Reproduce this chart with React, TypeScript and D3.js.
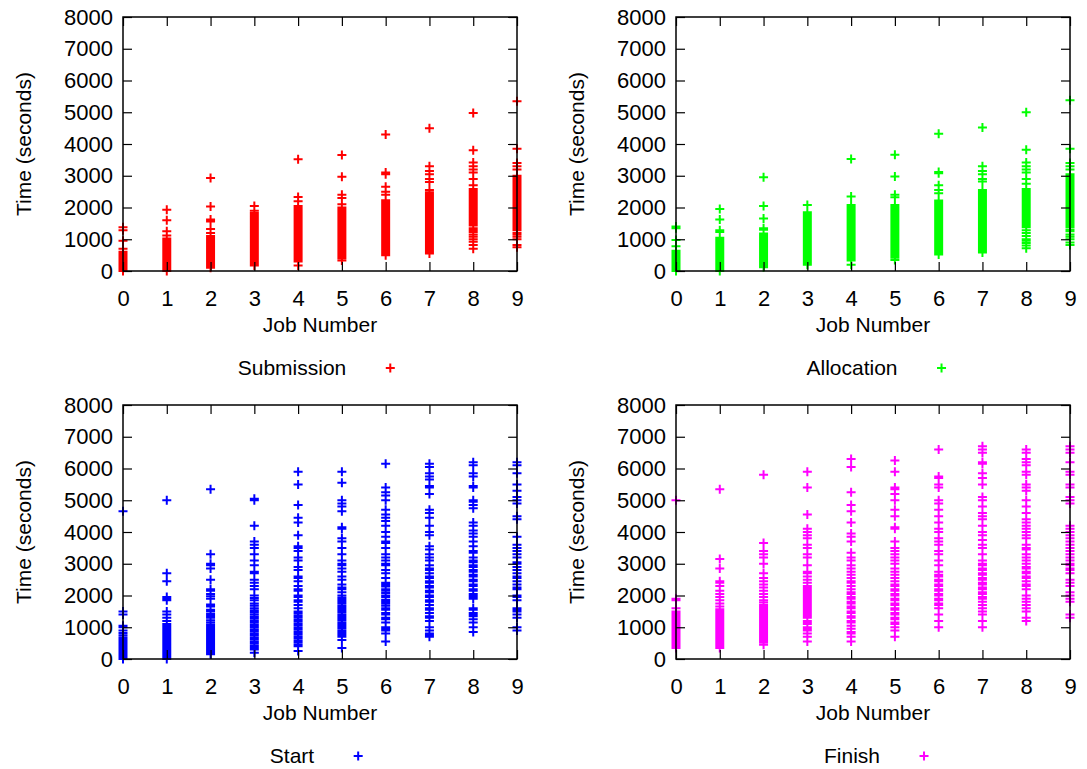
import React, { useEffect, useRef } from "react";
import * as d3 from "d3";

const jobNumbers = [0, 1, 2, 3, 4, 5, 6, 7, 8, 9];
const timeTicks = [0, 1000, 2000, 3000, 4000, 5000, 6000, 7000, 8000];

const submissionTimes: number[][] = [
  [0, 20, 50, 80, 110, 150, 180, 220, 260, 300, 340, 380, 420, 470, 510, 560, 610, 700, 950, 1280, 1380],
  [0, 30, 60, 100, 140, 170, 210, 250, 290, 330, 370, 410, 450, 490, 530, 570, 610, 650, 690, 730, 780, 820, 870, 920, 980, 1020, 1120, 1250, 1600, 1930],
  [100, 140, 190, 230, 280, 320, 360, 410, 450, 490, 540, 580, 620, 660, 700, 750, 790, 830, 880, 920, 970, 1010, 1060, 1100, 1200, 1320, 1560, 1620, 2030, 2930],
  [170, 220, 260, 300, 350, 400, 450, 500, 540, 590, 640, 680, 730, 780, 820, 870, 920, 960, 1010, 1060, 1100, 1150, 1200, 1250, 1300, 1350, 1400, 1450, 1500, 1550, 1600, 1650, 1700, 1760, 1830, 1900, 2050],
  [170, 300, 340, 390, 440, 480, 530, 580, 620, 670, 720, 760, 810, 860, 900, 950, 1000, 1050, 1090, 1140, 1190, 1230, 1280, 1330, 1380, 1420, 1470, 1520, 1560, 1610, 1660, 1700, 1750, 1800, 1850, 1900, 1950, 2000, 2050, 2200, 2330, 3520],
  [330, 400, 440, 490, 540, 590, 630, 680, 730, 780, 820, 870, 920, 960, 1010, 1060, 1110, 1150, 1200, 1250, 1290, 1340, 1390, 1440, 1480, 1530, 1580, 1620, 1670, 1720, 1770, 1810, 1860, 1910, 1960, 2000, 2100, 2300, 2400, 2970, 3650],
  [500, 560, 600, 650, 700, 740, 790, 840, 890, 930, 980, 1030, 1080, 1120, 1170, 1220, 1270, 1310, 1360, 1410, 1460, 1500, 1550, 1600, 1650, 1690, 1740, 1790, 1840, 1880, 1930, 1980, 2030, 2080, 2130, 2180, 2230, 2400, 2500, 2650, 3050, 3100, 4300],
  [550, 600, 650, 690, 740, 790, 840, 880, 930, 980, 1030, 1070, 1120, 1170, 1220, 1260, 1310, 1360, 1410, 1450, 1500, 1550, 1600, 1640, 1690, 1740, 1790, 1830, 1880, 1930, 1980, 2020, 2070, 2120, 2170, 2210, 2260, 2310, 2360, 2420, 2480, 2550, 2800, 2900, 3050, 3150, 3300, 4500],
  [700, 820, 920, 1000, 1080, 1150, 1230, 1290, 1350, 1430, 1480, 1530, 1580, 1620, 1670, 1720, 1770, 1810, 1860, 1910, 1960, 2000, 2050, 2100, 2150, 2190, 2240, 2290, 2340, 2380, 2430, 2480, 2530, 2580, 2700, 2900, 3100, 3200, 3300, 3420, 3800, 4980],
  [750, 820, 1000, 1080, 1150, 1200, 1280, 1330, 1380, 1430, 1480, 1520, 1570, 1620, 1670, 1710, 1760, 1810, 1860, 1900, 1950, 2000, 2050, 2090, 2140, 2190, 2240, 2280, 2330, 2380, 2430, 2470, 2520, 2570, 2620, 2660, 2710, 2760, 2810, 2850, 2900, 2950, 3000, 3200, 3300, 3400, 3850, 5350],
];

const allocationTimes: number[][] = [
  [0, 30, 60, 90, 130, 160, 200, 240, 280, 320, 360, 400, 440, 490, 530, 580, 640, 780, 980, 1350, 1400],
  [0, 40, 70, 110, 150, 190, 230, 270, 310, 350, 390, 430, 470, 510, 550, 590, 630, 670, 710, 760, 800, 850, 900, 950, 1000, 1050, 1230, 1280, 1620, 1950],
  [120, 160, 200, 250, 290, 330, 380, 420, 460, 510, 550, 590, 640, 680, 720, 770, 810, 850, 900, 940, 990, 1030, 1080, 1120, 1180, 1300, 1350, 1650, 2050, 2950],
  [200, 250, 290, 340, 380, 430, 480, 520, 570, 620, 660, 710, 760, 800, 850, 900, 940, 990, 1040, 1080, 1130, 1180, 1220, 1270, 1320, 1360, 1410, 1460, 1500, 1550, 1600, 1650, 1700, 1760, 1800, 1850, 2080],
  [200, 330, 370, 420, 460, 510, 560, 600, 650, 700, 740, 790, 840, 880, 930, 980, 1020, 1070, 1120, 1160, 1210, 1260, 1300, 1350, 1400, 1440, 1490, 1540, 1580, 1630, 1680, 1720, 1770, 1820, 1870, 1920, 1970, 2030, 2080, 2350, 3530],
  [350, 420, 470, 520, 560, 610, 660, 700, 750, 800, 840, 890, 940, 980, 1030, 1080, 1120, 1170, 1220, 1260, 1310, 1360, 1400, 1450, 1500, 1540, 1590, 1640, 1680, 1730, 1780, 1820, 1870, 1920, 1960, 2020, 2080, 2320, 2400, 2980, 3660],
  [520, 580, 620, 670, 720, 760, 810, 860, 900, 950, 1000, 1040, 1090, 1140, 1180, 1230, 1280, 1320, 1370, 1420, 1460, 1510, 1560, 1600, 1650, 1700, 1740, 1790, 1840, 1880, 1930, 1980, 2020, 2070, 2120, 2170, 2220, 2450, 2550, 2700, 3080, 3120, 4320],
  [580, 640, 680, 720, 770, 820, 860, 910, 960, 1000, 1050, 1100, 1140, 1190, 1240, 1280, 1330, 1380, 1420, 1470, 1520, 1560, 1610, 1660, 1700, 1750, 1800, 1840, 1890, 1940, 1980, 2030, 2080, 2120, 2170, 2220, 2260, 2310, 2360, 2400, 2450, 2500, 2550, 2820, 2900, 3050, 3150, 3300, 4520],
  [720, 800, 880, 950, 1000, 1100, 1200, 1280, 1380, 1430, 1480, 1530, 1580, 1620, 1670, 1720, 1770, 1810, 1860, 1910, 1960, 2000, 2050, 2100, 2150, 2190, 2240, 2290, 2340, 2380, 2430, 2480, 2530, 2580, 2750, 2900, 3100, 3200, 3300, 3420, 3820, 5000],
  [820, 900, 1000, 1080, 1150, 1250, 1300, 1380, 1430, 1480, 1520, 1570, 1620, 1670, 1710, 1760, 1810, 1860, 1900, 1950, 2000, 2050, 2090, 2140, 2190, 2240, 2280, 2330, 2380, 2430, 2470, 2520, 2570, 2620, 2660, 2710, 2760, 2810, 2850, 2900, 2950, 3000, 3050, 3200, 3300, 3400, 3850, 5380],
];

const startTimes: number[][] = [
  [0, 30, 70, 110, 150, 200, 240, 290, 330, 380, 420, 470, 520, 560, 620, 680, 750, 820, 900, 1000, 1050, 1400, 1500, 4650],
  [0, 40, 80, 130, 170, 220, 260, 310, 350, 400, 440, 490, 540, 580, 630, 680, 720, 770, 820, 860, 920, 980, 1040, 1100, 1200, 1300, 1400, 1500, 1850, 1900, 1950, 2450, 2700, 5000],
  [150, 200, 250, 300, 360, 410, 460, 510, 570, 620, 680, 730, 790, 840, 900, 960, 1020, 1080, 1150, 1220, 1300, 1360, 1420, 1500, 1550, 1650, 1720, 1900, 1980, 2050, 2150, 2200, 2500, 2850, 2950, 3000, 3300, 5350],
  [200, 300, 360, 420, 490, 550, 620, 680, 750, 810, 880, 940, 1010, 1070, 1140, 1200, 1270, 1330, 1400, 1470, 1530, 1600, 1680, 1750, 1850, 1920, 2000, 2200, 2300, 2400, 2500, 2700, 2750, 2950, 3100, 3300, 3500, 3600, 3700, 4200, 5000, 5050],
  [250, 400, 460, 530, 590, 660, 720, 790, 850, 920, 980, 1050, 1110, 1180, 1240, 1310, 1370, 1440, 1500, 1600, 1700, 1800, 1850, 1950, 2000, 2150, 2200, 2300, 2450, 2550, 2600, 2800, 2900, 3100, 3200, 3400, 3500, 3550, 3900, 4300, 4450, 4850, 5500, 5900],
  [350, 600, 700, 760, 830, 890, 960, 1020, 1090, 1150, 1220, 1280, 1350, 1410, 1480, 1540, 1610, 1670, 1740, 1800, 1870, 1930, 2000, 2100, 2200, 2250, 2350, 2500, 2600, 2750, 2850, 2950, 3000, 3100, 3300, 3500, 3700, 3800, 4100, 4150, 4650, 4800, 4900, 5000, 5550, 5900],
  [550, 800, 900, 950, 1000, 1150, 1250, 1300, 1400, 1450, 1550, 1600, 1680, 1750, 1800, 1870, 1950, 2000, 2080, 2150, 2200, 2280, 2350, 2400, 2550, 2700, 2800, 2950, 3000, 3100, 3200, 3300, 3500, 3650, 3700, 3850, 4000, 4200, 4350, 4450, 4550, 4700, 5000, 5150, 5250, 5400, 6150],
  [700, 750, 800, 900, 1000, 1200, 1300, 1350, 1450, 1550, 1600, 1700, 1800, 1850, 1950, 2000, 2100, 2150, 2250, 2300, 2400, 2450, 2550, 2600, 2700, 2800, 2850, 2950, 3100, 3200, 3300, 3450, 3550, 3900, 4000, 4200, 4450, 4600, 4700, 5200, 5400, 5450, 5650, 5750, 5850, 6050, 6150],
  [850, 1000, 1150, 1250, 1350, 1400, 1450, 1550, 1600, 1900, 1950, 2000, 2050, 2150, 2200, 2300, 2350, 2450, 2500, 2600, 2650, 2750, 2800, 2900, 2950, 3050, 3100, 3200, 3350, 3400, 3550, 3700, 3850, 3950, 4050, 4200, 4300, 4750, 4850, 4950, 5000, 5400, 5450, 5750, 5850, 6100, 6200],
  [900, 1000, 1300, 1400, 1500, 1550, 1600, 1850, 1950, 2000, 2200, 2250, 2350, 2450, 2550, 2600, 2700, 2800, 2900, 3000, 3050, 3200, 3300, 3400, 3500, 3600, 3850, 4400, 4500, 4900, 5000, 5100, 5300, 5500, 5850, 6100, 6200],
];

const finishTimes: number[][] = [
  [350, 390, 440, 480, 530, 580, 620, 670, 720, 760, 810, 860, 900, 950, 1000, 1040, 1090, 1140, 1180, 1230, 1280, 1320, 1370, 1420, 1470, 1500, 1600, 1850, 1900, 5000],
  [350, 400, 440, 490, 540, 580, 630, 680, 720, 770, 820, 860, 910, 960, 1000, 1050, 1100, 1140, 1190, 1240, 1280, 1330, 1380, 1420, 1470, 1520, 1570, 1650, 1750, 1850, 1950, 2050, 2150, 2300, 2400, 2450, 2850, 3150, 5350],
  [450, 520, 570, 620, 660, 710, 760, 800, 850, 900, 940, 990, 1040, 1080, 1130, 1180, 1220, 1270, 1320, 1360, 1410, 1460, 1500, 1550, 1600, 1650, 1700, 1780, 1850, 1950, 2050, 2150, 2250, 2350, 2450, 2550, 2700, 3000, 3200, 3300, 3400, 3650, 5800],
  [550, 700, 800, 900, 950, 1000, 1100, 1150, 1200, 1300, 1350, 1400, 1450, 1500, 1550, 1600, 1650, 1700, 1750, 1800, 1850, 1900, 1950, 2000, 2050, 2100, 2150, 2200, 2250, 2300, 2400, 2500, 2600, 2700, 2750, 2950, 3200, 3300, 3500, 3600, 3800, 3900, 4000, 4100, 4550, 5400, 5900],
  [550, 700, 800, 850, 950, 1050, 1150, 1200, 1300, 1350, 1450, 1500, 1600, 1650, 1750, 1800, 1900, 1950, 2050, 2100, 2200, 2300, 2400, 2450, 2550, 2650, 2750, 2850, 2950, 3100, 3200, 3350, 3700, 3850, 3950, 4300, 4650, 4850, 5250, 6050, 6300],
  [700, 900, 1000, 1100, 1150, 1250, 1300, 1400, 1450, 1550, 1600, 1700, 1750, 1850, 1900, 2000, 2050, 2150, 2200, 2300, 2350, 2450, 2550, 2650, 2750, 2850, 3000, 3100, 3200, 3300, 3400, 3500, 3700, 4100, 4150, 4500, 4700, 5000, 5200, 5350, 5400, 5900, 6250],
  [1000, 1200, 1400, 1600, 1700, 1750, 1850, 1900, 2000, 2050, 2150, 2200, 2300, 2350, 2450, 2500, 2600, 2650, 2750, 2950, 3100, 3300, 3400, 3600, 3700, 3800, 4000, 4100, 4300, 4500, 4700, 4900, 5000, 5400, 5500, 5700, 5750, 6600],
  [1000, 1200, 1400, 1500, 1600, 1700, 1800, 1900, 1950, 2050, 2100, 2200, 2250, 2350, 2400, 2500, 2550, 2650, 2700, 2800, 2850, 2950, 3000, 3100, 3300, 3500, 3600, 3750, 3900, 4000, 4200, 4400, 4500, 4600, 4800, 5000, 5100, 5500, 5700, 5850, 6150, 6200, 6500, 6600, 6700],
  [1200, 1300, 1500, 1600, 1700, 1800, 1900, 2000, 2200, 2300, 2350, 2450, 2550, 2600, 2700, 2750, 2850, 2900, 3000, 3100, 3200, 3300, 3450, 3500, 3600, 3800, 3900, 4000, 4100, 4200, 4300, 4400, 4600, 4800, 5000, 5300, 5400, 5500, 5800, 5900, 6100, 6200, 6300, 6500, 6600],
  [1300, 1400, 1800, 1900, 2000, 2100, 2300, 2400, 2500, 2700, 2800, 2850, 2950, 3000, 3100, 3200, 3300, 3400, 3500, 3600, 3700, 3800, 3900, 4000, 4100, 4200, 4900, 5000, 5100, 5400, 5500, 5800, 5900, 6200, 6500, 6600, 6700],
];

const seriesNames = ["Submission", "Allocation", "Start", "Finish"];
const seriesColors = ["#ff0000", "#00ff00", "#0000ff", "#ff00ff"];
const seriesData = [submissionTimes, allocationTimes, startTimes, finishTimes];

const FONT = "'Liberation Sans', Arial, Helvetica, sans-serif";

export default function App() {
  const ref = useRef<SVGSVGElement>(null);

  useEffect(() => {
    const svg = d3.select(ref.current);
    svg.selectAll("*").remove();
    const W = 394;
    const H = 254;
    const origins = [
      [123, 17],
      [676, 17],
      [123, 405],
      [676, 405],
    ];
    const fs = 21;
    const tickFs = 22;
    const arm = 4.5;

    seriesData.forEach((data, i) => {
      const [ox, oy] = origins[i];
      const color = seriesColors[i];
      const g = svg.append("g").attr("transform", `translate(${ox},${oy})`);
      const x = d3.scaleLinear().domain([0, 9]).range([0, W]);
      const y = d3.scaleLinear().domain([0, 8000]).range([H, 0]);

      const pts: [number, number][] = [];
      data.forEach((arr, j) => arr.forEach((v) => pts.push([jobNumbers[j], v])));
      const plus = (cx: number, cy: number) =>
        `M${cx - arm},${cy}h${2 * arm}M${cx},${cy - arm}v${2 * arm}`;
      g.append("path")
        .attr("d", pts.map(([a, b]) => plus(x(a), y(b))).join(""))
        .attr("stroke", color)
        .attr("stroke-width", 2)
        .attr("fill", "none");

      const styleAxis = (sel: any) => {
        sel.select(".domain").remove();
        sel.selectAll(".tick line").attr("stroke", "#000").attr("stroke-width", 1.2);
        sel.selectAll("text").attr("font-family", FONT).attr("font-size", tickFs).attr("fill", "#000");
      };

      g.append("g")
        .call(d3.axisLeft(y).tickValues(timeTicks).tickSize(-9).tickPadding(10).tickFormat(d3.format("d")))
        .call(styleAxis);
      g.append("g")
        .attr("transform", `translate(${W},0)`)
        .call(d3.axisRight(y).tickValues(timeTicks).tickSize(-9).tickFormat(() => ""))
        .call(styleAxis);
      g.append("g")
        .attr("transform", `translate(0,${H})`)
        .call(d3.axisBottom(x).tickValues(jobNumbers).tickSize(-9).tickPadding(19).tickFormat(d3.format("d")))
        .call(styleAxis);
      g.append("g")
        .call(d3.axisTop(x).tickValues(jobNumbers).tickSize(-9).tickFormat(() => ""))
        .call(styleAxis);

      g.append("rect")
        .attr("x", 0)
        .attr("y", 0)
        .attr("width", W)
        .attr("height", H)
        .attr("fill", "none")
        .attr("stroke", "#000")
        .attr("stroke-width", 1.5);

      g.append("text")
        .attr("transform", `translate(-100,${H / 2}) rotate(-90)`)
        .attr("text-anchor", "middle")
        .attr("dominant-baseline", "central")
        .attr("font-family", FONT)
        .attr("font-size", fs)
        .text("Time (seconds)");

      g.append("text")
        .attr("x", W / 2)
        .attr("y", H + 61)
        .attr("text-anchor", "middle")
        .attr("font-family", FONT)
        .attr("font-size", fs)
        .text("Job Number");

      const key = g.append("text")
        .attr("y", H + 104)
        .attr("text-anchor", "end")
        .attr("font-family", FONT)
        .attr("font-size", fs)
        .text(seriesNames[i]);
      const tw = (key.node() as SVGTextElement).getComputedTextLength();
      const gap = 48;
      const keyCenter = W / 2 + (i % 2 === 0 ? -4 : 3);
      const textEnd = keyCenter - (tw + gap) / 2 + tw;
      key.attr("x", textEnd);
      g.append("path")
        .attr("d", plus(textEnd + 44, H + 97))
        .attr("stroke", color)
        .attr("stroke-width", 2)
        .attr("fill", "none");
    });
  }, []);

  return (
    <svg
      ref={ref}
      width={1087}
      height={769}
      style={{ position: "absolute", left: 0, top: 0, background: "#fff" }}
    />
  );
}
